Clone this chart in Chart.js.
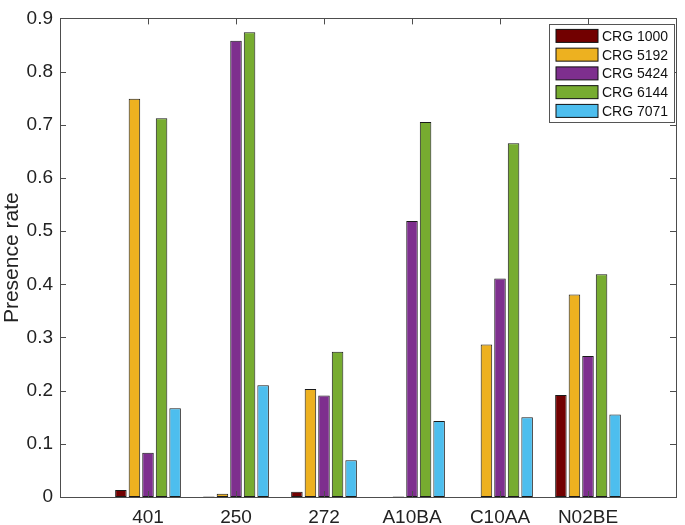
<!DOCTYPE html>
<html>
<head>
    <script src="https://cdn.jsdelivr.net/npm/chart.js"></script>
    <style>
        body { margin: 0; background: #fff; }
    </style>
</head>
<body>
    <canvas id="chart" width="685" height="525"></canvas>
    <script>
        const categories = ['401', '250', '272', 'A10BA', 'C10AA', 'N02BE'];
        const seriesNames = ['CRG 1000', 'CRG 5192', 'CRG 5424', 'CRG 6144', 'CRG 7071'];
        const crg1000 = [0.013, 0.001, 0.010, 0, 0, 0.192];
        const crg5192 = [0.749, 0.006, 0.203, 0.001, 0.287, 0.381];
        const crg5424 = [0.083, 0.858, 0.191, 0.519, 0.411, 0.265];
        const crg6144 = [0.712, 0.874, 0.273, 0.705, 0.665, 0.419];
        const crg7071 = [0.167, 0.210, 0.069, 0.143, 0.150, 0.155];
        const colors = ['#720000', '#EDB120', '#7E2F8E', '#77AC30', '#4DBEEE'];

        // empty slots at both ends so the axis runs from 0 to 7 like the original
        const labels = [''].concat(categories, ['']);
        const pad = arr => [null].concat(arr, [null]);
        const allSeries = [crg1000, crg5192, crg5424, crg6144, crg7071];

        const FONT = '"Liberation Sans", Arial, Helvetica, sans-serif';

        const frame = {
            id: 'frame',
            afterDatasetsDraw(chart) {
                const ctx = chart.ctx;
                const a = chart.chartArea;
                const x = chart.scales.x, y = chart.scales.y;
                ctx.save();
                ctx.strokeStyle = '#4d4d4d';
                ctx.lineWidth = 1;
                ctx.beginPath();
                y.ticks.forEach(t => {
                    const py = Math.round(y.getPixelForValue(t.value)) + 0.5;
                    ctx.moveTo(a.left, py); ctx.lineTo(a.left + 6, py);
                    ctx.moveTo(a.right, py); ctx.lineTo(a.right - 6, py);
                });
                for (let i = 1; i <= categories.length; i++) {
                    const px = Math.round(x.getPixelForValue(i)) + 0.5;
                    ctx.moveTo(px, a.bottom); ctx.lineTo(px, a.bottom - 6);
                    ctx.moveTo(px, a.top); ctx.lineTo(px, a.top + 6);
                }
                ctx.stroke();
                ctx.strokeRect(Math.round(a.left) + 0.5, Math.round(a.top) + 0.5,
                    Math.round(a.right - a.left), Math.round(a.bottom - a.top));

                // legend box, top right inside the axes
                const bx = a.right - 127, by = a.top + 6, bw = 125, bh = 98;
                ctx.fillStyle = '#fff';
                ctx.fillRect(bx, by, bw, bh);
                ctx.strokeStyle = '#555';
                ctx.strokeRect(Math.round(bx) + 0.5, Math.round(by) + 0.5, bw, bh);
                ctx.font = '14px ' + FONT;
                ctx.textBaseline = 'middle';
                chart.data.datasets.forEach((ds, i) => {
                    const cy = by + 11.5 + i * 18.75;
                    ctx.fillStyle = ds.backgroundColor;
                    ctx.fillRect(bx + 7, cy - 6.5, 42, 13);
                    ctx.strokeStyle = '#111';
                    ctx.strokeRect(bx + 7, cy - 6.5, 42, 13);
                    ctx.fillStyle = '#111';
                    ctx.fillText(ds.label, bx + 53, cy + 1);
                });
                ctx.restore();
            }
        };

        const ctx = document.getElementById('chart').getContext('2d');
        new Chart(ctx, {
            type: 'bar',
            data: {
                labels: labels,
                datasets: seriesNames.map((name, i) => ({
                    label: name,
                    data: pad(allSeries[i]),
                    backgroundColor: colors[i],
                    borderColor: '#1a1a1a',
                    borderWidth: 1,
                    borderSkipped: false,
                    categoryPercentage: 0.77,
                    barPercentage: 0.85
                }))
            },
            options: {
                responsive: false,
                animation: false,
                layout: { padding: { left: 0, right: 6, top: 6, bottom: 0 } },
                plugins: {
                    legend: { display: false },
                    tooltip: { enabled: false }
                },
                scales: {
                    x: {
                        offset: false,
                        grid: { display: false, drawTicks: false },
                        border: { display: false },
                        ticks: {
                            color: '#222',
                            font: { family: FONT, size: 19 },
                            padding: 9,
                            autoSkip: false,
                            maxRotation: 0
                        },
                        afterFit: s => { s.height = 28; }
                    },
                    y: {
                        min: 0,
                        max: 0.9,
                        grid: { display: false, drawTicks: false },
                        border: { display: false },
                        ticks: {
                            stepSize: 0.1,
                            color: '#222',
                            font: { family: FONT, size: 19 },
                            padding: 7,
                            callback: v => v === 0 ? '0' : v.toFixed(1)
                        },
                        title: {
                            display: true,
                            text: 'Presence rate',
                            color: '#222',
                            font: { family: FONT, size: 21 },
                            padding: { top: 0, bottom: 0 }
                        },
                        afterFit: s => { s.width = 60; }
                    }
                }
            },
            plugins: [frame]
        });
    </script>
</body>
</html>
